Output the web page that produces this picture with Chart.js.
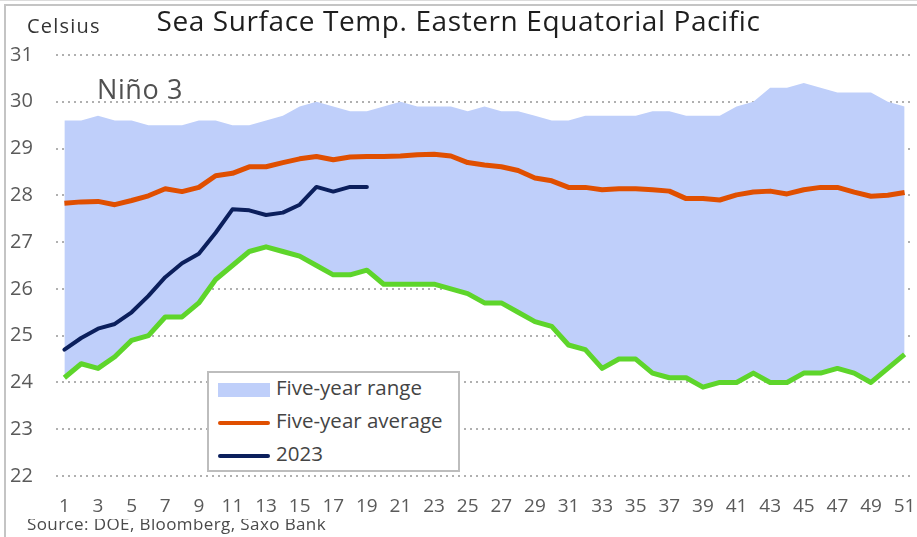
<!DOCTYPE html>
<html>
<head>
<meta charset="utf-8">
<script src="https://cdn.jsdelivr.net/npm/chart.js@4/dist/chart.umd.min.js"></script>
<style>
  html, body { margin: 0; padding: 0; background: #fff; }
  #wrap { position: relative; width: 917px; height: 537px; overflow: hidden; font-family: "Open Sans", sans-serif; }
  #frame { position: absolute; left: 4px; top: 4px; right: -10px; bottom: -10px; border-top: 2px solid #c4c4c4; border-left: 2px solid #c4c4c4; }
  #topline { position: absolute; left: 0; top: 0; width: 917px; height: 1px; background: #dcdcdc; }
  canvas { position: absolute; left: 0; top: 0; }
  .txt { position: absolute; white-space: nowrap; }
  #title { left: 0; width: 917px; top: 1px; text-align: center; font-size: 28px; letter-spacing: 0.6px; color: #1e1e1e; }
  #unit { left: 27px; top: 12px; font-size: 20px; letter-spacing: 1.2px; color: #333; }
  #nino { left: 97px; top: 70px; font-size: 27px; letter-spacing: 0.6px; color: #505050; }
  #source { left: 27px; top: 519px; height: 18px; overflow: hidden; }
  #source span { position: relative; top: -7px; font-size: 17px; color: #4a4a4a; letter-spacing: 0.4px; }
  #legend { position: absolute; left: 207px; top: 371px; width: 249px; height: 97px; border: 2px solid #bdbdbd; background: #fff; }
  .item { position: absolute; left: 9px; height: 30px; font-size: 20.5px; color: #444; line-height: 30px; }
  .sw { display: inline-block; width: 52px; vertical-align: middle; margin-right: 6px; }
</style>
</head>
<body>
<div id="wrap">
  <div id="topline"></div>
  <div id="frame"></div>
  <canvas id="c" width="917" height="537"></canvas>
  <div class="txt" id="title">Sea Surface Temp. Eastern Equatorial Pacific</div>
  <div class="txt" id="unit">Celsius</div>
  <div class="txt" id="nino">Niño 3</div>
  <div class="txt" id="source"><span>Source: DOE, Bloomberg, Saxo Bank</span></div>
  <div id="legend"></div>
</div>
<script>
const weeks = [1, 2, 3, 4, 5, 6, 7, 8, 9, 10, 11, 12, 13, 14, 15, 16, 17, 18, 19, 20,
  21, 22, 23, 24, 25, 26, 27, 28, 29, 30, 31, 32, 33, 34, 35, 36, 37, 38, 39, 40,
  41, 42, 43, 44, 45, 46, 47, 48, 49, 50, 51]

const rangeHigh = [29.6, 29.6, 29.7, 29.6, 29.6, 29.5, 29.5, 29.5, 29.6, 29.6,
  29.5, 29.5, 29.6, 29.7, 29.9, 30.0, 29.9, 29.8, 29.8, 29.9,
  30.0, 29.9, 29.9, 29.9, 29.8, 29.9, 29.8, 29.8, 29.7, 29.6,
  29.6, 29.7, 29.7, 29.7, 29.7, 29.8, 29.8, 29.7, 29.7, 29.7,
  29.9, 30.0, 30.3, 30.3, 30.4, 30.3, 30.2, 30.2, 30.2, 30.0, 29.9]

const rangeLow = [24.1, 24.4, 24.3, 24.55, 24.9, 25.0, 25.4, 25.4, 25.7, 26.2,
  26.5, 26.8, 26.9, 26.8, 26.7, 26.5, 26.3, 26.3, 26.4, 26.1,
  26.1, 26.1, 26.1, 26.0, 25.9, 25.7, 25.7, 25.5, 25.3, 25.2,
  24.8, 24.7, 24.3, 24.5, 24.5, 24.2, 24.1, 24.1, 23.9, 24.0,
  24.0, 24.2, 24.0, 24.0, 24.2, 24.2, 24.3, 24.2, 24.0, 24.3, 24.6]

const avg5y = [27.83, 27.86, 27.87, 27.8, 27.89, 27.99, 28.14, 28.08, 28.17, 28.42,
  28.47, 28.61, 28.61, 28.7, 28.78, 28.83, 28.76, 28.82, 28.83, 28.83,
  28.84, 28.87, 28.88, 28.84, 28.7, 28.65, 28.61, 28.53, 28.37, 28.31,
  28.17, 28.17, 28.12, 28.14, 28.14, 28.12, 28.09, 27.93, 27.93, 27.9,
  28.01, 28.07, 28.09, 28.03, 28.12, 28.17, 28.17, 28.07, 27.98, 28.0, 28.06]

const temp2023 = [24.7, 24.95, 25.15, 25.25, 25.5, 25.85, 26.25, 26.55, 26.75, 27.2,
  27.7, 27.68, 27.58, 27.63, 27.8, 28.18, 28.08, 28.18, 28.18]

const yTicks = [22, 23, 24, 25, 26, 27, 28, 29, 30, 31]

const rangeColor = "#bfcffa"
const lowColor = "#5ed52b"
const avgColor = "#e04f00"
const navy = "#0b1f5c"
const tickColor = "#5a5a5a"

const datasets = [
  { label: "Five-year range", data: rangeHigh, borderWidth: 0, backgroundColor: rangeColor, fill: "+1", pointRadius: 0 },
  { label: "low", data: rangeLow, borderColor: lowColor, borderWidth: 5, backgroundColor: rangeColor, fill: false, pointRadius: 0, borderJoinStyle: "round" },
  { label: "Five-year average", data: avg5y, borderColor: avgColor, borderWidth: 5, fill: false, pointRadius: 0, borderJoinStyle: "round" },
  { label: "2023", data: temp2023, borderColor: navy, borderWidth: 4, fill: false, pointRadius: 0, borderJoinStyle: "round", borderCapStyle: "round" }
]

const chart = new Chart(document.getElementById("c"), {
  type: "line",
  data: { labels: weeks, datasets: datasets },
  options: {
    responsive: false,
    animation: false,
    devicePixelRatio: 1,
    layout: { padding: { left: 10, right: 4, top: 55, bottom: 0 } },
    plugins: {
      legend: { display: false },
      tooltip: { enabled: false },
      filler: { drawTime: "beforeDatasetsDraw" }
    },
    scales: {
      x: {
        offset: true,
        grid: { display: false, drawTicks: false },
        border: { display: false },
        ticks: {
          autoSkip: false, maxRotation: 0, padding: 19, color: tickColor,
          font: { family: "Open Sans", size: 19 },
          callback: (v, i) => i % 2 === 0 ? weeks[i] : ""
        },
        afterFit: s => { s.height = 61; s.paddingLeft = 0; s.paddingRight = 0 }
      },
      y: {
        min: yTicks[0], max: yTicks[yTicks.length - 1],
        afterBuildTicks: s => { s.ticks = yTicks.map(v => ({ value: v })) },
        grid: { color: "#b0b0b0", lineWidth: 2, drawTicks: false },
        border: { display: false, dash: [2, 4] },
        ticks: { crossAlign: "far", padding: 0, color: tickColor, font: { family: "Open Sans", size: 20 } },
        afterFit: s => { s.width = 46; s.paddingTop = 0; s.paddingBottom = 0 }
      }
    }
  }
})

// dotted grid lines
chart.options.scales.y.grid.borderDash = [2, 4]
chart.update()

const legend = document.getElementById("legend")
const items = [
  { text: datasets[0].label, kind: "box", color: rangeColor },
  { text: datasets[2].label, kind: "line", color: avgColor },
  { text: datasets[3].label, kind: "line", color: navy }
]
items.forEach((it, i) => {
  const row = document.createElement("div")
  row.className = "item"
  row.style.top = (-1 + i * 33) + "px"
  const sw = document.createElement("span")
  sw.className = "sw"
  if (it.kind === "box") {
    sw.style.height = "14px"
    sw.style.background = it.color
  } else {
    sw.style.height = "4px"
    sw.style.borderRadius = "2px"
    sw.style.background = it.color
  }
  row.appendChild(sw)
  row.appendChild(document.createTextNode(it.text))
  legend.appendChild(row)
})
</script>
</body>
</html>
